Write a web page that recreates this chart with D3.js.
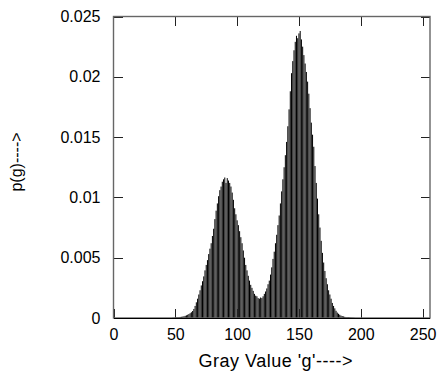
<!DOCTYPE html>
<html>
<head>
<meta charset="utf-8">
<script src="https://cdn.jsdelivr.net/npm/d3@7"></script>
<style>
  html, body { margin: 0; padding: 0; background: #fff; }
  svg text { font-family: "Liberation Sans", Arial, sans-serif; fill: #000; }
</style>
</head>
<body>
<svg id="chart" width="440" height="376"></svg>
<script>
// histogram p(g), gray values from firstGray upward; everything else is zero
const firstGray = 48;
const pValues = [
  0.00002, 0.00003, 0.00004, 0.00005, 0.00006, 0.00008, 0.00009, 0.00010, 0.00012, 0.00015,
  0.00018, 0.00022, 0.00027, 0.00033, 0.00040, 0.00048, 0.00058, 0.00075, 0.00100, 0.00130,
  0.00160, 0.00195, 0.00230, 0.00270, 0.00305, 0.00345, 0.00395, 0.00440, 0.00480, 0.00530,
  0.00575, 0.00620, 0.00680, 0.00740, 0.00820, 0.00890, 0.00950, 0.01010, 0.01060, 0.01090,
  0.01130, 0.01150, 0.01165, 0.01120, 0.01160, 0.01140, 0.01120, 0.01090, 0.01040, 0.00980,
  0.00910, 0.00860, 0.00810, 0.00770, 0.00720, 0.00670, 0.00620, 0.00560, 0.00500, 0.00440,
  0.00395, 0.00350, 0.00310, 0.00275, 0.00250, 0.00225, 0.00200, 0.00185, 0.00180, 0.00165,
  0.00160, 0.00170, 0.00165, 0.00180, 0.00200, 0.00220, 0.00245, 0.00280, 0.00310, 0.00360,
  0.00420, 0.00490, 0.00550, 0.00620, 0.00690, 0.00770, 0.00850, 0.00950, 0.01050, 0.01150,
  0.01250, 0.01350, 0.01460, 0.01590, 0.01730, 0.01880, 0.02030, 0.02130, 0.02220, 0.02290,
  0.02340, 0.02320, 0.02360, 0.02380, 0.02310, 0.02250, 0.02180, 0.02110, 0.02040, 0.01960,
  0.01860, 0.01740, 0.01620, 0.01520, 0.01420, 0.01260, 0.01120, 0.00990, 0.00860, 0.00750,
  0.00640, 0.00540, 0.00460, 0.00390, 0.00330, 0.00280, 0.00230, 0.00195, 0.00160, 0.00125,
  0.00100, 0.00080, 0.00060, 0.00045, 0.00035, 0.00027, 0.00020, 0.00016, 0.00013, 0.00010,
  0.00008, 0.00007, 0.00006, 0.00005, 0.00004, 0.00003, 0.00002, 0.00001
];
const xTicks = [0, 50, 100, 150, 200, 250];
const yTicks = [0, 0.005, 0.01, 0.015, 0.02, 0.025];
const xTitle = "Gray Value 'g'---->";
const yTitle = "p(g)---->";

const hist = d3.range(256).map(g => {
  const i = g - firstGray;
  return { g, p: (i >= 0 && i < pValues.length) ? pValues[i] : 0 };
});

const svg = d3.select('#chart');
const plotLeft = 113.5, plotRight = 430, plotTop = 16.5, plotBottom = 318;

const x = d3.scaleLinear().domain([0, 256]).range([plotLeft, plotRight]);
const y = d3.scaleLinear().domain([0, 0.025]).range([plotBottom, plotTop]);

// bars: thin impulses, a little narrower than a bin so gaps show
const barW = x(0.82) - x(0);
svg.append('g')
  .selectAll('rect')
  .data(hist.filter(d => d.p > 0))
  .enter()
  .append('rect')
  .attr('x', d => x(d.g) - barW / 2)
  .attr('y', d => y(d.p))
  .attr('width', barW)
  .attr('height', d => y(0) - y(d.p))
  .attr('fill', '#000');

// axes with inward ticks on all four sides
const tickLen = 9;
const styleAxis = sel => {
  sel.select('.domain').remove();
  sel.selectAll('.tick line').attr('stroke', '#222').attr('shape-rendering', 'crispEdges');
  sel.selectAll('.tick text').attr('font-size', 16).attr('font-family', '"Liberation Sans", Arial, sans-serif');
};

svg.append('g')
  .attr('transform', `translate(0,${plotBottom})`)
  .call(d3.axisBottom(x).tickValues(xTicks).tickSize(-tickLen).tickPadding(11).tickFormat(d3.format('d')))
  .call(styleAxis);

svg.append('g')
  .attr('transform', `translate(0,${plotTop})`)
  .call(d3.axisTop(x).tickValues(xTicks.slice(1)).tickSize(-tickLen).tickFormat(''))
  .call(styleAxis);

svg.append('g')
  .attr('transform', `translate(${plotLeft},0)`)
  .call(d3.axisLeft(y).tickValues(yTicks).tickSize(-tickLen).tickPadding(13).tickFormat(d => d === 0 ? '0' : String(+d.toFixed(3))))
  .call(styleAxis);

svg.append('g')
  .attr('transform', `translate(${plotRight},0)`)
  .call(d3.axisRight(y).tickValues(yTicks.slice(1)).tickSize(-tickLen).tickFormat(''))
  .call(styleAxis);

// frame
svg.append('rect')
  .attr('x', plotLeft).attr('y', plotTop)
  .attr('width', plotRight - plotLeft).attr('height', plotBottom - plotTop)
  .attr('fill', 'none')
  .attr('stroke', '#666')
  .attr('stroke-width', 1.4);
svg.append('line')
  .attr('x1', plotLeft).attr('x2', plotRight)
  .attr('y1', plotBottom).attr('y2', plotBottom)
  .attr('stroke', '#000')
  .attr('shape-rendering', 'crispEdges');

// titles
svg.append('text')
  .attr('x', (plotLeft + plotRight) / 2 + 4)
  .attr('y', 367)
  .attr('text-anchor', 'middle')
  .attr('font-size', 18)
  .attr('letter-spacing', 0.5)
  .text(xTitle);

svg.append('text')
  .attr('transform', `translate(22,162) rotate(-90)`)
  .attr('text-anchor', 'middle')
  .attr('font-size', 16)
  .text(yTitle);
</script>
</body>
</html>
